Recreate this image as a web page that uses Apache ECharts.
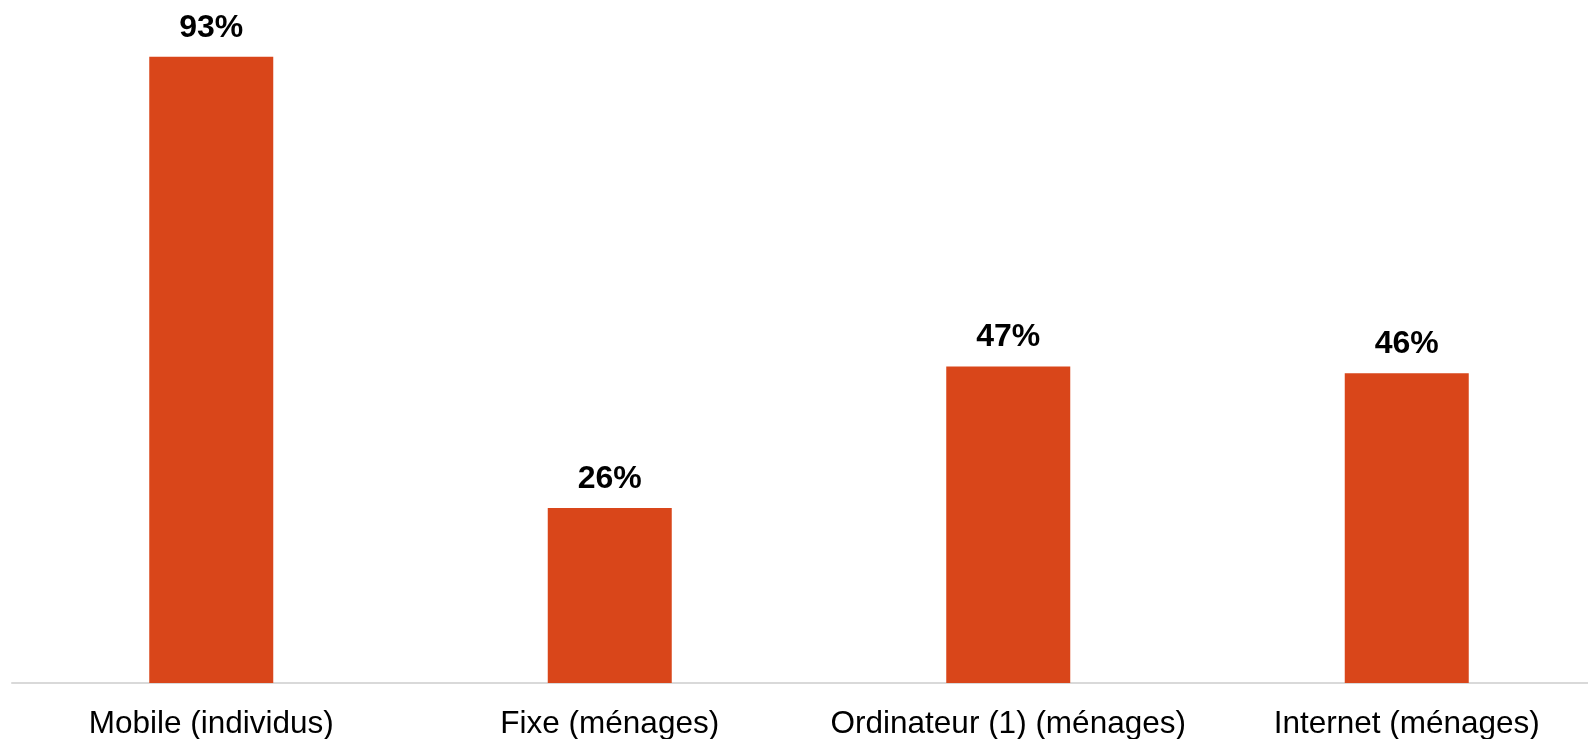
<!DOCTYPE html>
<html>
<head>
<meta charset="utf-8">
<script src="https://cdn.jsdelivr.net/npm/echarts@6/dist/echarts.min.js"></script>
<style>
html,body{margin:0;padding:0;background:#fff;}
#chart{width:1588px;height:739px;}
</style>
</head>
<body>
<div id="chart"></div>
<script>
const categories = ['Mobile (individus)', 'Fixe (ménages)', 'Ordinateur (1) (ménages)', 'Internet (ménages)'];
const values = [93, 26, 47, 46];

const chart = echarts.init(document.getElementById('chart'), null, {renderer: 'canvas'});
chart.setOption({
  animation: false,
  backgroundColor: '#ffffff',
  grid: {left: 12, width: 1594, top: 9.6, bottom: 56, containLabel: false, outerBoundsMode: 'none'},
  xAxis: {
    type: 'category',
    data: categories,
    axisLine: {show: true, lineStyle: {color: '#d9d9d9', width: 2}},
    axisTick: {show: false},
    axisLabel: {color: '#000', fontFamily: 'Liberation Sans, Arial, sans-serif', fontSize: 31.5, margin: 25, interval: 0}
  },
  yAxis: {
    type: 'value', min: 0, max: 100,
    show: false,
    splitLine: {show: false}
  },
  series: [{
    type: 'bar',
    data: values,
    barWidth: 124,
    itemStyle: {color: '#D9461A'},
    label: {
      show: true, position: 'top', distance: 13,
      formatter: p => p.value + '%',
      color: '#000', fontWeight: 'bold', fontSize: 32,
      fontFamily: 'Liberation Sans, Arial, sans-serif'
    }
  }]
});
</script>
</body>
</html>
